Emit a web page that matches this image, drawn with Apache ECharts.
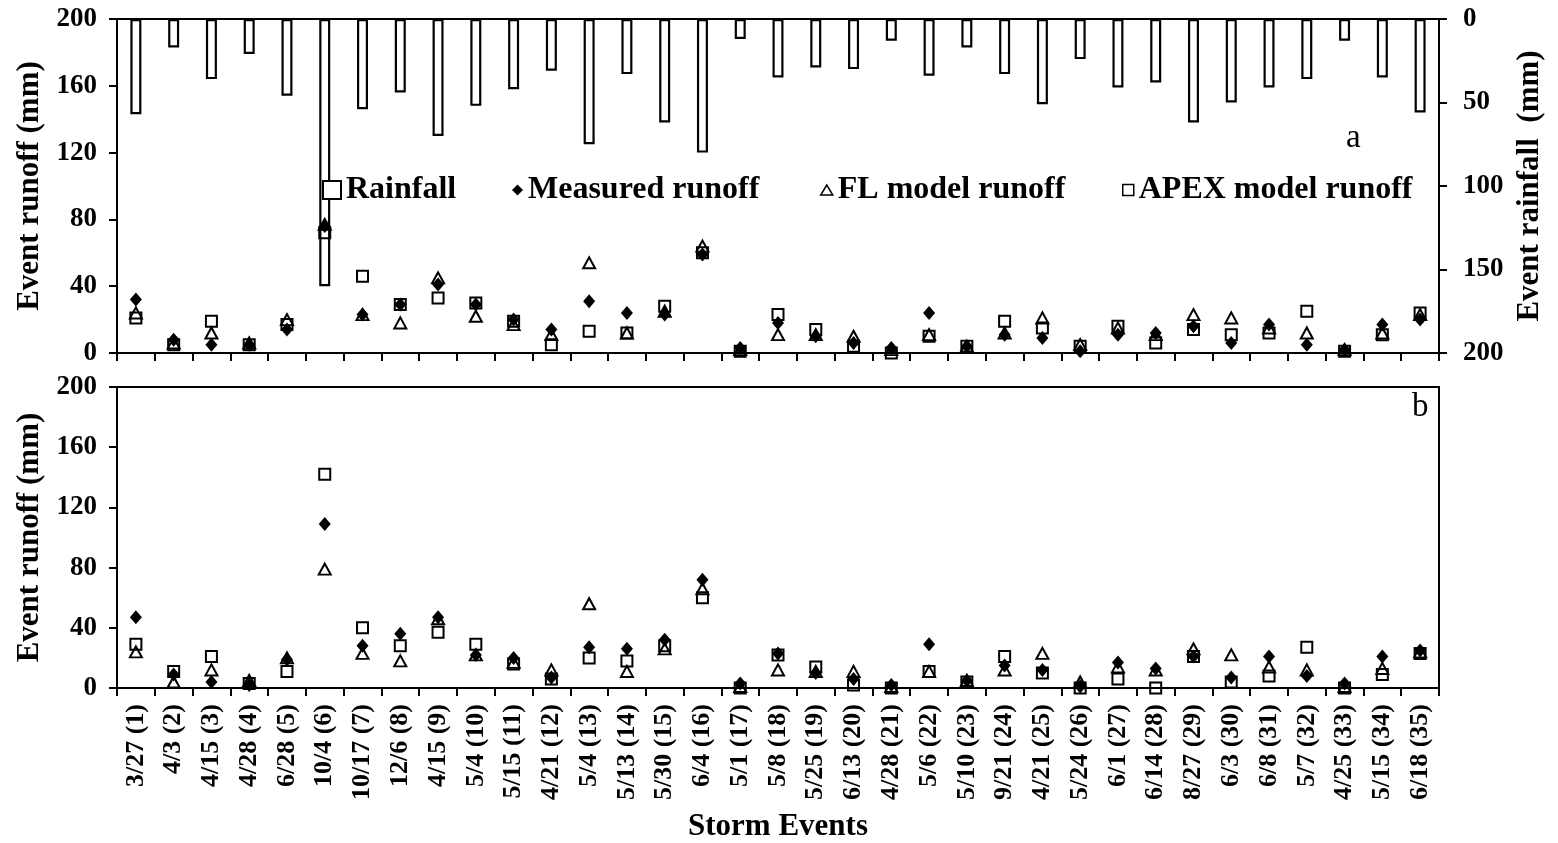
<!DOCTYPE html>
<html>
<head>
<meta charset="utf-8">
<script src="https://cdn.jsdelivr.net/npm/echarts@6/dist/echarts.min.js"></script>
<style>
html,body{margin:0;padding:0;background:#fff;}
#chart{width:1558px;height:843px;}
</style>
</head>
<body>
<div id="chart"></div>
<script>
var categories = ['3/27 (1)','4/3 (2)','4/15 (3)','4/28 (4)','6/28 (5)','10/4 (6)','10/17 (7)','12/6 (8)','4/15 (9)','5/4 (10)','5/15 (11)','4/21 (12)','5/4 (13)','5/13 (14)','5/30 (15)','6/4 (16)','5/1 (17)','5/8 (18)','5/25 (19)','6/13 (20)','4/28 (21)','5/6 (22)','5/10 (23)','9/21 (24)','4/21 (25)','5/24 (26)','6/1 (27)','6/14 (28)','8/27 (29)','6/3 (30)','6/8 (31)','5/7 (32)','4/25 (33)','5/15 (34)','6/18 (35)'];

var rainfall = [57,17,36,21,46,160,54,44,70,52,42,31,75,33,62,80,12,35,29,30,13,34,17,33,51,24,41,38,62,50,41,36,13,35,56];

// Panel a
var measuredA = [32,8,5,5,14,76,23,29,41,29,20,14,31,24,23,59,3,18,10,6,3,24,4,11,9,1,11,12,16,6,17,5,2,17,20];
var flA       = [24,6,12,6,20,77,23,18,45,22,17,11,54,12,25,64,2,11,11,10,2,11,4,12,21,5,15,11,23,21,15,12,2,12,23];
var apexA     = [21,5,19,5,17,72,46,29,33,30,19,5,13,12,28,60,1,23,14,4,0,10,4,19,15,4,16,6,14,11,12,25,1,11,24];

// Panel b
var measuredB = [47,9,4,2,19,109,28,36,47,22,20,7,27,26,32,72,3,23,10,6,2,29,5,15,12,1,17,13,21,7,21,8,3,21,25];
var flB       = [24,4,12,5,20,79,23,18,46,22,17,12,56,11,26,66,1,12,11,11,1,11,5,12,23,4,14,12,26,22,14,12,1,13,24];
var apexB     = [29,11,21,3,11,142,40,28,37,29,16,6,20,18,28,60,0,22,14,2,0,11,4,21,10,0,6,0,21,4,8,27,0,9,23];

var runoffTicks = [0,40,80,120,160,200];
var rainTicks = [0,50,100,150,200];

var FONT = '"Liberation Serif","Times New Roman",serif';
var chart = echarts.init(document.getElementById('chart'), null, {renderer:'canvas'});

var axisLineStyle = {show:true, lineStyle:{color:'#000', width:2}};
var tickStyle = {show:true, length:8, lineStyle:{color:'#000', width:2}};
var labelBase = {color:'#000', fontFamily:FONT, fontWeight:'bold', fontSize:27};
var nameBase = {color:'#000', fontFamily:FONT, fontWeight:'bold', fontSize:31};

var emptyStyle = {color:'rgba(0,0,0,0)', borderColor:'#000', borderWidth:2, opacity:1};
var fullStyle = {color:'#000', opacity:1};

function yRunoff(grid){
  return {
    gridIndex:grid, type:'value', min:runoffTicks[0], max:runoffTicks[runoffTicks.length-1], interval:40,
    position:'left', name:'Event runoff (mm)', nameLocation:'middle', nameRotate:90, nameGap:70,
    nameTextStyle:nameBase,
    axisLine:axisLineStyle, axisTick:tickStyle, splitLine:{show:false},
    axisLabel:Object.assign({margin:20}, labelBase)
  };
}

var legendText = {color:'#000', fontFamily:FONT, fontWeight:'bold', fontSize:32, lineHeight:36};

var option = {
  animation:false,
  backgroundColor:'#fff',
  grid:[
    {left:117, right:119, top:19, height:334, show:false},
    {left:117, right:119, top:387, height:302, show:true, borderColor:'#000', borderWidth:2, backgroundColor:'rgba(0,0,0,0)'}
  ],
  xAxis:[
    {gridIndex:0, type:'category', data:categories, position:'bottom',
     axisLine:axisLineStyle, axisTick:Object.assign({interval:0}, tickStyle), axisLabel:{show:false}, splitLine:{show:false}},
    {gridIndex:0, type:'category', data:categories, position:'top',
     axisLine:axisLineStyle, axisTick:{show:false}, axisLabel:{show:false}, splitLine:{show:false}},
    {gridIndex:1, type:'category', data:categories, position:'bottom',
     name:'Storm Events', nameLocation:'middle', nameGap:123, nameTextStyle:nameBase,
     axisLine:axisLineStyle, axisTick:Object.assign({interval:0}, tickStyle),
     axisLabel:Object.assign({rotate:90, interval:0, margin:16}, labelBase, {fontSize:26}), splitLine:{show:false}}
  ],
  yAxis:[
    yRunoff(0),
    {gridIndex:0, type:'value', min:rainTicks[0], max:rainTicks[rainTicks.length-1], interval:50, inverse:true,
     position:'right', name:'Event rainfall  (mm)', nameLocation:'middle', nameRotate:90, nameGap:74,
     nameTextStyle:nameBase,
     axisLine:axisLineStyle, axisTick:tickStyle, splitLine:{show:false},
     axisLabel:Object.assign({margin:24}, labelBase)},
    yRunoff(1)
  ],
  legend:[
    {left:322, top:172, padding:0, itemWidth:18, itemHeight:18, itemGap:0, selectedMode:false,
     textStyle:legendText,
     data:[{name:'Rainfall', icon:'rect', itemStyle:{color:'#fff', borderColor:'#000', borderWidth:2}}]},
    {left:512, top:172, padding:0, itemWidth:11, itemHeight:11, itemGap:0, selectedMode:false,
     textStyle:legendText,
     data:[{name:'Measured runoff', icon:'diamond', itemStyle:{color:'#000', borderWidth:0, opacity:1}}]},
    {left:820, top:172, padding:0, itemWidth:12, itemHeight:10, itemGap:0, selectedMode:false,
     textStyle:legendText,
     data:[{name:'FL model runoff', icon:'triangle', itemStyle:{color:'rgba(0,0,0,0)', borderColor:'#000', borderWidth:1.5, opacity:1}}]},
    {left:1122, top:172, padding:0, itemWidth:11, itemHeight:11, itemGap:0, selectedMode:false,
     textStyle:legendText,
     data:[{name:'APEX model runoff', icon:'rect', itemStyle:{color:'rgba(0,0,0,0)', borderColor:'#000', borderWidth:1.5, opacity:1}}]}
  ],
  graphic:[
    {type:'text', left:1346, top:122, style:{text:'a', font:'normal 33px "Liberation Serif", serif', fill:'#000'}},
    {type:'text', left:1412, top:391, style:{text:'b', font:'normal 33px "Liberation Serif", serif', fill:'#000'}}
  ],
  series:[
    {name:'Rainfall', type:'bar', xAxisIndex:0, yAxisIndex:1, data:rainfall, barWidth:11,
     itemStyle:{color:'#fff', borderColor:'#000', borderWidth:2.2}, emphasis:{disabled:true}, z:1},
    {name:'Measured runoff', type:'scatter', xAxisIndex:0, yAxisIndex:0, data:measuredA,
     symbol:'diamond', symbolSize:[12,14], itemStyle:fullStyle, z:3},
    {name:'FL model runoff', type:'scatter', xAxisIndex:0, yAxisIndex:0, data:flA,
     symbol:'triangle', symbolSize:[12,11], itemStyle:emptyStyle, z:4},
    {name:'APEX model runoff', type:'scatter', xAxisIndex:0, yAxisIndex:0, data:apexA,
     symbol:'rect', symbolSize:11, itemStyle:emptyStyle, z:5},
    {name:'Measured runoff', type:'scatter', xAxisIndex:2, yAxisIndex:2, data:measuredB,
     symbol:'diamond', symbolSize:[12,14], itemStyle:fullStyle, z:3},
    {name:'FL model runoff', type:'scatter', xAxisIndex:2, yAxisIndex:2, data:flB,
     symbol:'triangle', symbolSize:[12,11], itemStyle:emptyStyle, z:4},
    {name:'APEX model runoff', type:'scatter', xAxisIndex:2, yAxisIndex:2, data:apexB,
     symbol:'rect', symbolSize:11, itemStyle:emptyStyle, z:5}
  ]
};
chart.setOption(option);
</script>
</body>
</html>
